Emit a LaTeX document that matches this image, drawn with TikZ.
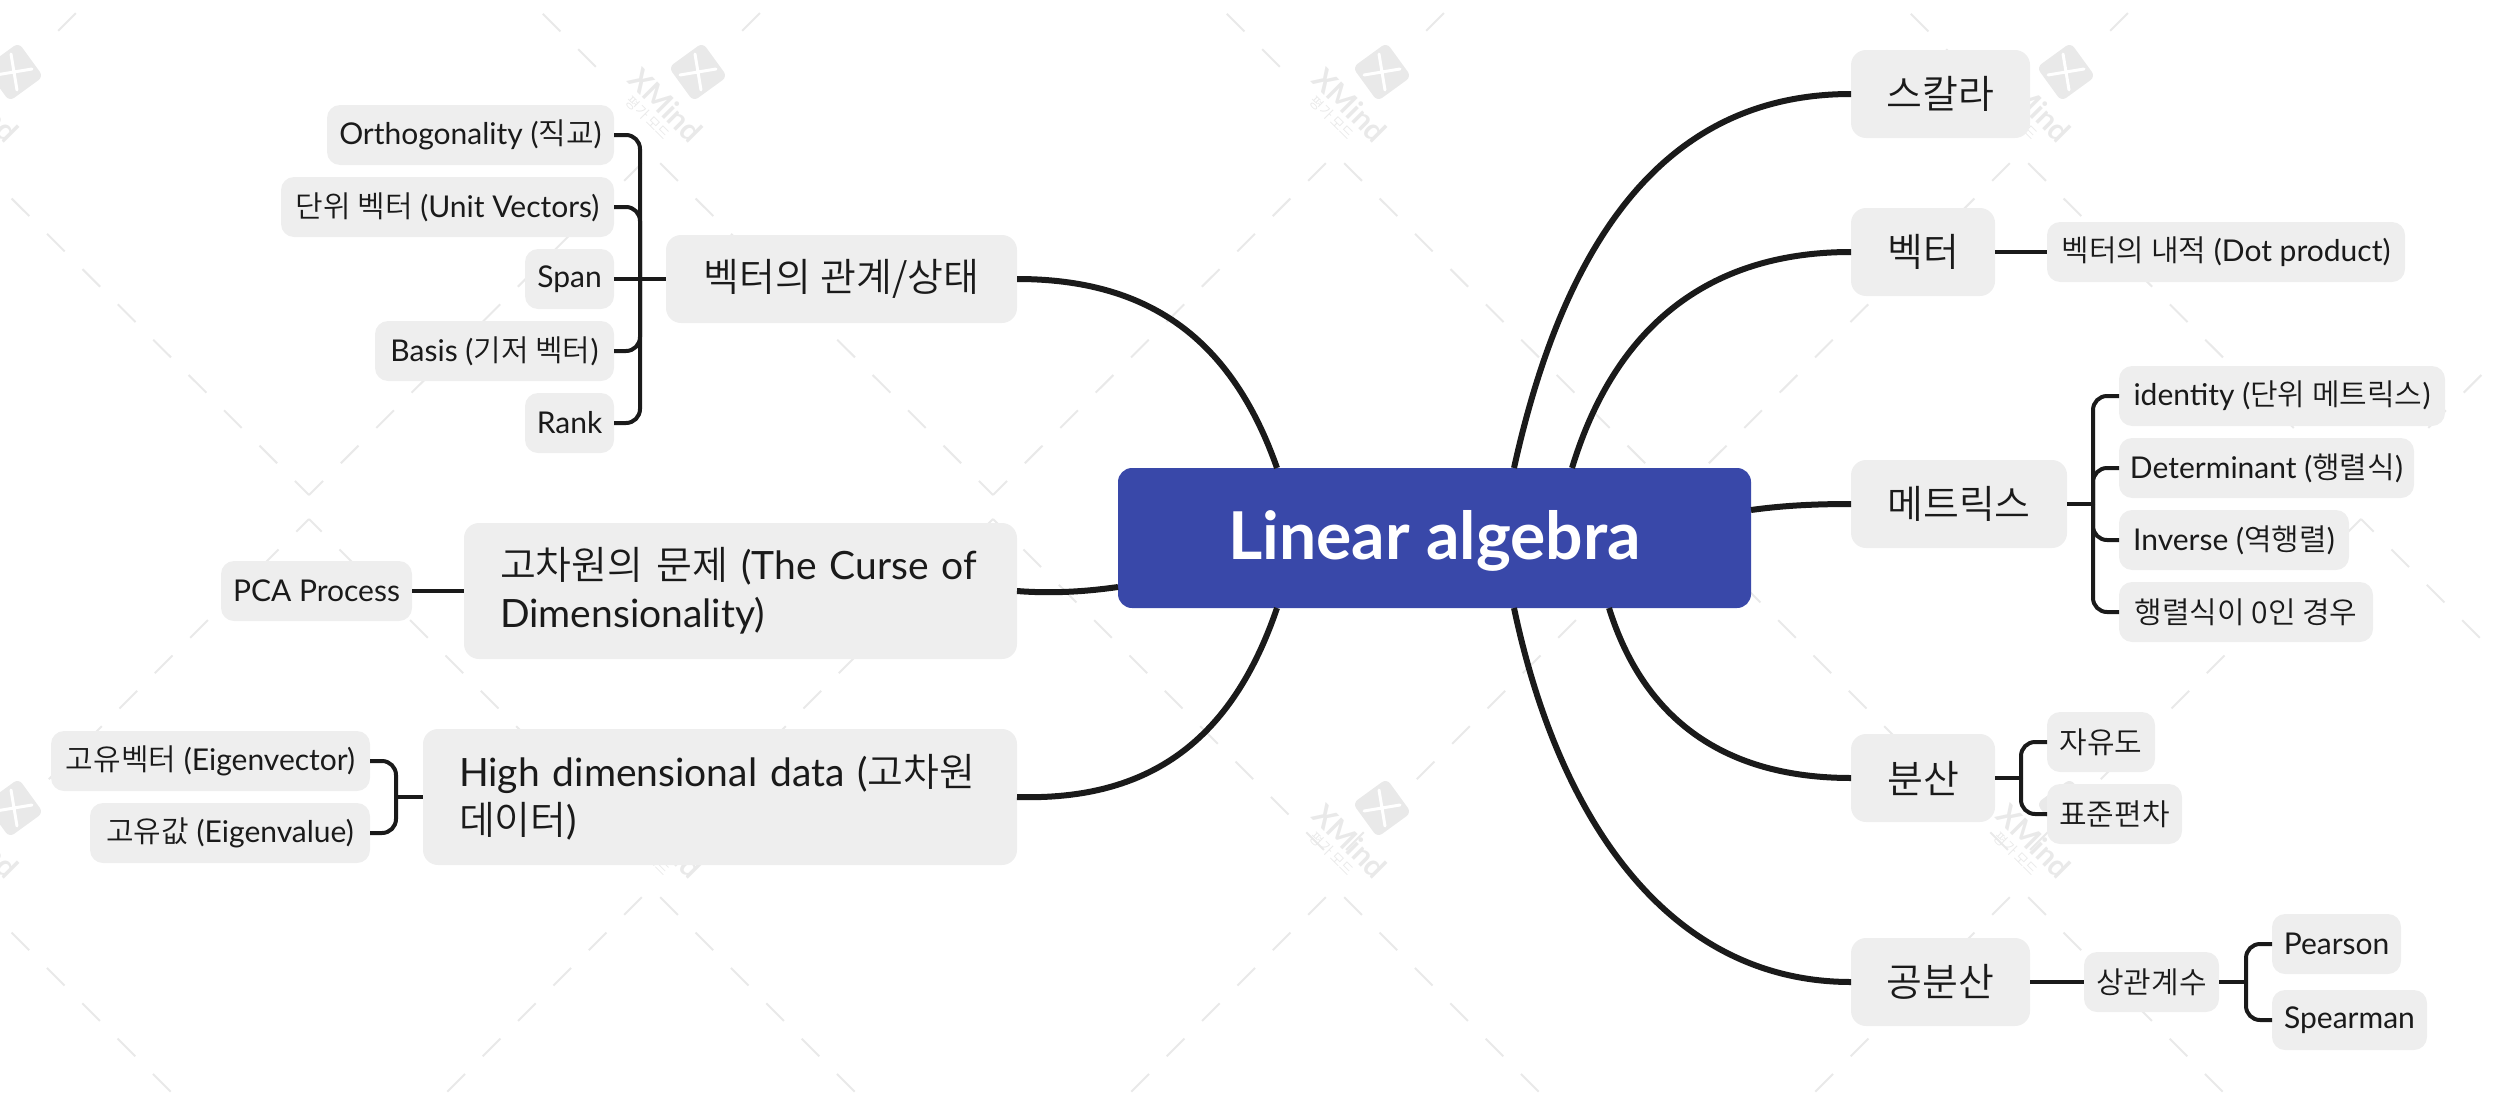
\documentclass[tikz,border=0pt]{standalone}
\usepackage{fontspec}
\usetikzlibrary{calc}
\setmainfont{Lato}
\newfontfamily\krfont{Noto Sans CJK KR DemiLight}
\newcommand{\kr}[1]{{\krfont #1}}
\definecolor{rootblue}{HTML}{3948A9}
\definecolor{boxgray}{HTML}{EEEEEE}
\definecolor{inkgray}{HTML}{1A1A1A}
\definecolor{wmgray}{HTML}{E9E9E9}
\tikzset{
  leaf/.style={fill=boxgray,text=inkgray,rounded corners=13pt,inner sep=0pt,outer sep=0pt,
    minimum height=60pt,font=\fontsize{30}{40}\selectfont},
  topic/.style={fill=boxgray,text=inkgray,rounded corners=15pt,inner sep=0pt,outer sep=0pt,
    minimum height=88pt,font=\fontsize{39}{48}\selectfont},
  longtopic/.style={topic,minimum height=136pt,inner xsep=36pt,align=left},
  rootbox/.style={fill=rootblue,text=white,rounded corners=14pt,inner sep=0pt,outer sep=0pt,
    text height=50pt,text depth=7pt,font=\fontsize{66}{72}\selectfont\bfseries},
  trunk/.style={draw=inkgray,line width=6pt},
  twig/.style={draw=inkgray,line width=4pt,rounded corners=14pt},
  wmdash/.style={draw=wmgray,line width=2pt,dash pattern=on 25pt off 25pt},
  wmtext/.style={text=wmgray,inner sep=0pt},
}
\begin{document}
\begin{tikzpicture}[x=1pt,y=-1pt]
\path[use as bounding box,clip] (0,0) rectangle (2496,1100);

% watermark
\foreach \dx in {-684,0,684,1368,2052} {
\draw[wmdash,xshift=\dx pt,dash phase=37pt] (651,154) -- (309,495) (651,154) -- (993,495);
\draw[wmdash,xshift=\dx pt,dash phase=7pt] (309,519) -- (-30,858) (309,519) -- (648,858);
\draw[wmdash,xshift=\dx pt,dash phase=37pt] (651,888) -- (420,1119) (651,888) -- (882,1119);
\draw[wmdash,xshift=\dx pt,dash phase=37pt] (605,76) -- (540,11) (733,40) -- (770,3);
}
\foreach \lx/\ly [count=\n] in {14/72,698/72,1382/72,2066/72,14/808,698/808,1382/808,2066/808} {
\node (wmlogo\n) at (\lx,\ly) [rotate=-54,fill=wmgray,rounded corners=6pt,minimum size=42pt,
  inner sep=0pt] {};
\draw[white,line width=3pt,line cap=round]
  ($(wmlogo\n.center)+(-18,3)$) -- ($(wmlogo\n.center)+(18,-3)$)
  ($(wmlogo\n.center)+(-3,-18)$) -- ($(wmlogo\n.center)+(3,18)$);
\node (wmname\n) at ($(wmlogo\n.center)+(-32,33)$) [wmtext,rotate=-45,font=\fontsize{30}{30}\selectfont\bfseries] {XMind};
\node (wmmode\n) at ($(wmlogo\n.center)+(-50,46)$) [wmtext,rotate=-45,font=\fontsize{14}{14}\selectfont] {\kr{평가 모드}};
}

% root
\node (root) at (1434.5,538) [rootbox,minimum width=633pt,minimum height=140pt] {Linear algebra};

% left side
\node (rel) at (841.5,279) [topic,minimum width=351pt] {\kr{벡터의 관계/상태}};
\node (ortho) at (470.5,135) [leaf,minimum width=287pt] {Orthogonality (\kr{직교})};
\node (unit) at (447.5,207) [leaf,minimum width=333pt] {\kr{단위 벡터} (Unit Vectors)};
\node (span) at (569.5,279) [leaf,minimum width=89pt] {Span};
\node (basis) at (494.5,351) [leaf,minimum width=239pt] {Basis (\kr{기저 벡터})};
\node (rank) at (569.5,423) [leaf,minimum width=89pt] {Rank};
\node (curse) at (740.5,591) [longtopic,text width=481pt] {\kr{고차원의 문제} (The Curse of\\Dimensionality)};
\node (pca) at (316.5,591) [leaf,minimum width=191pt] {PCA Process};
\node (high) at (720,797) [longtopic,text width=522pt] {High dimensional data (\kr{고차원}\\\kr{데이터})};
\node (eigvec) at (210.5,761) [leaf,minimum width=319pt] {\kr{고유벡터} (Eigenvector)};
\node (eigval) at (230,833) [leaf,minimum width=280pt] {\kr{고유값} (Eigenvalue)};

% right side
\node (scalar) at (1940.5,94) [topic,minimum width=179pt] {\kr{스칼라}};
\node (vect) at (1923,252) [topic,minimum width=144pt] {\kr{벡터}};
\node (dot) at (2226,252) [leaf,minimum width=358pt] {\kr{벡터의 내적} (Dot product)};
\node (matr) at (1959,504) [topic,minimum width=216pt] {\kr{메트릭스}};
\node (ident) at (2282,396) [leaf,minimum width=326pt] {identity (\kr{단위 메트릭스})};
\node (det) at (2266.5,468) [leaf,minimum width=295pt] {Determinant (\kr{행렬식})};
\node (inv) at (2234,540) [leaf,minimum width=230pt] {Inverse (\kr{역행렬})};
\node (zero) at (2246,612) [leaf,minimum width=254pt] {\kr{행렬식이 0인 경우}};
\node (var) at (1923,778) [topic,minimum width=144pt] {\kr{분산}};
\node (dof) at (2101,742) [leaf,minimum width=108pt] {\kr{자유도}};
\node (std) at (2114.5,814) [leaf,minimum width=135pt] {\kr{표준편차}};
\node (cov) at (1940.5,982) [topic,minimum width=179pt] {\kr{공분산}};
\node (corr) at (2151.5,982) [leaf,minimum width=135pt] {\kr{상관계수}};
\node (pear) at (2336.5,944) [leaf,minimum width=129pt] {Pearson};
\node (spear) at (2349.5,1020) [leaf,minimum width=155pt] {Spearman};

% trunks
\draw[trunk] (rel.east) .. controls (1150,279) and (1232,340) .. ([xshift=-157.5pt]root.north);
\draw[trunk] (curse.east) .. controls (1055,594) and (1090,591) .. ([yshift=-49pt]root.west);
\draw[trunk] (high.east) .. controls (1150,801) and (1232,740) .. ([xshift=-157.5pt]root.south);
\draw[trunk] (scalar.west) .. controls (1685,94) and (1571,210) .. ([xshift=79.5pt]root.north);
\draw[trunk] (vect.west) .. controls (1705,252) and (1614,330) .. ([xshift=137.5pt]root.north);
\draw[trunk] (matr.west) .. controls (1810,504) and (1780,506) .. ([yshift=28pt]root.east);
\draw[trunk] (var.west) .. controls (1725,778) and (1644,720) .. ([xshift=174.5pt]root.south);
\draw[trunk] (cov.west) .. controls (1675,982) and (1561,830) .. ([xshift=79.5pt]root.south);

% twigs
\coordinate (relhub) at (640,279);
\draw[twig] (ortho.east) -| (relhub);
\draw[twig] (unit.east) -| (relhub);
\draw[twig] (basis.east) -| (relhub);
\draw[twig] (rank.east) -| (relhub);
\draw[twig] (span.east) -- (rel.west);
\draw[twig] (pca.east) -- (curse.west);
\coordinate (highhub) at (396,797);
\draw[twig] (eigvec.east) -| (highhub);
\draw[twig] (eigval.east) -| (highhub);
\draw[twig] (highhub) -- (high.west);
\draw[twig] (vect.east) -- (dot.west);
\coordinate (matrhub) at (2093,504);
\draw[twig] (ident.west) -| (matrhub);
\draw[twig] (det.west) -| (matrhub);
\draw[twig] (inv.west) -| (matrhub);
\draw[twig] (zero.west) -| (matrhub);
\draw[twig] (matr.east) -- (matrhub);
\coordinate (varhub) at (2021,778);
\draw[twig] (dof.west) -| (varhub);
\draw[twig] (std.west) -| (varhub);
\draw[twig] (var.east) -- (varhub);
\draw[twig] (cov.east) -- (corr.west);
\coordinate (corrhub) at (2246,982);
\draw[twig] (pear.west) -| (corrhub);
\draw[twig] (spear.west) -| (corrhub);
\draw[twig] (corr.east) -- (corrhub);

\end{tikzpicture}
\end{document}
